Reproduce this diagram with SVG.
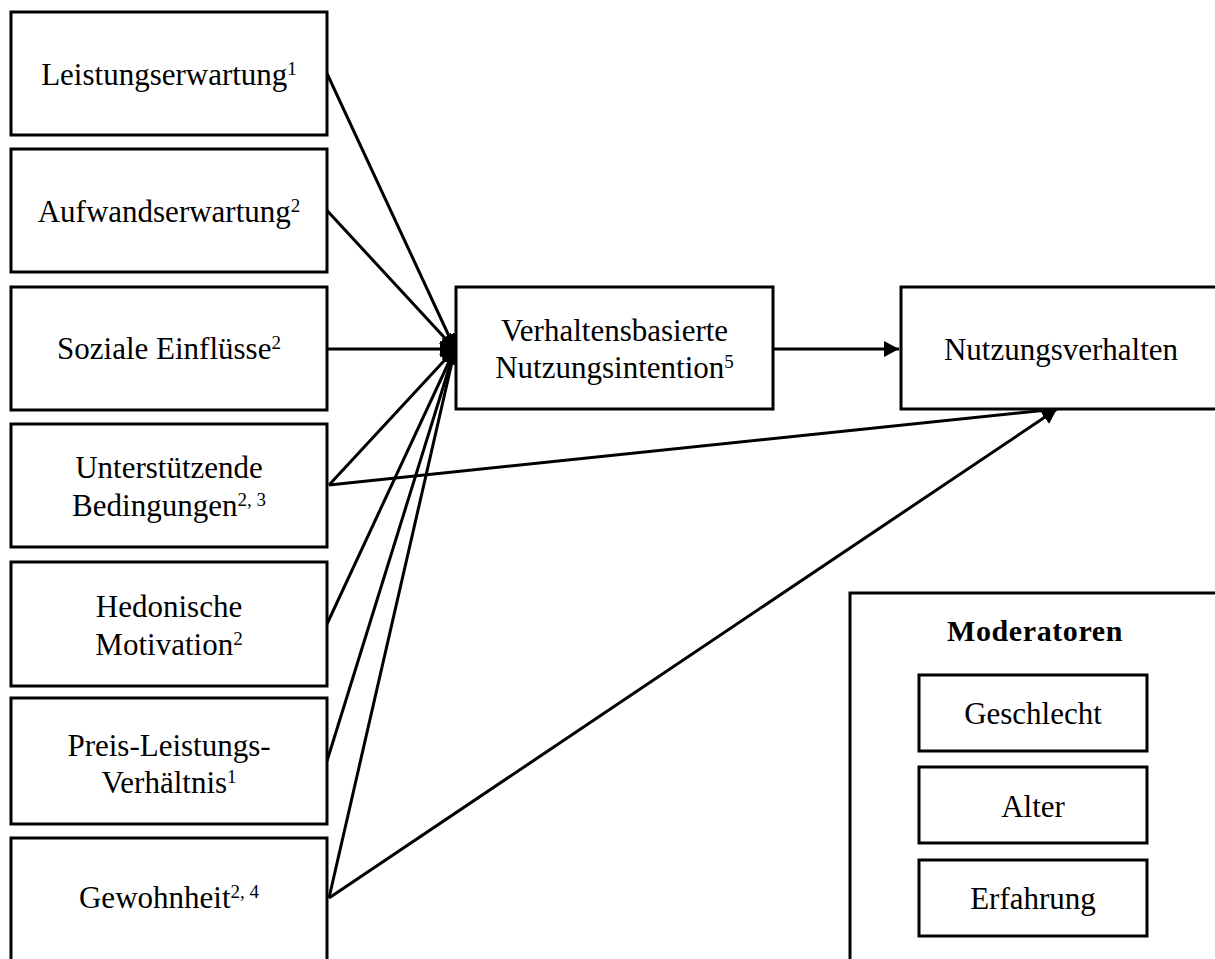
<svg xmlns="http://www.w3.org/2000/svg" width="1215" height="959" viewBox="0 0 1215 959">
  <style>
    .box { fill: #fff; stroke: #000; stroke-width: 3; }
    .lbl { font-family: "Liberation Serif", "Times New Roman", serif; font-size: 31px; fill: #000; text-anchor: middle; }
    .sup { font-size: 19px; }
    .head { font-weight: bold; font-size: 30px; letter-spacing: 0.6px; }
    .conn { stroke: #000; stroke-width: 3; fill: none; marker-end: url(#arrow); }
  </style>
  <defs>
    <marker id="arrow" markerUnits="userSpaceOnUse" markerWidth="17" markerHeight="17" refX="15" refY="8" orient="auto">
      <path d="M0,0 L15,8 L0,16 z" fill="#000"/>
    </marker>
  </defs>

  <rect width="1215" height="959" fill="#fff"/>

  <!-- connectors -->
  <g id="connectors">
    <line class="conn" x1="327" y1="73.5" x2="455" y2="349"/>
    <line class="conn" x1="327" y1="210.5" x2="455" y2="349"/>
    <line class="conn" x1="327" y1="349" x2="455" y2="349"/>
    <line class="conn" x1="329" y1="485" x2="455" y2="349"/>
    <line class="conn" x1="327" y1="624" x2="455" y2="349"/>
    <line class="conn" x1="327" y1="761" x2="455" y2="349"/>
    <line class="conn" x1="329" y1="898" x2="455" y2="349"/>
    <line class="conn" x1="773" y1="349" x2="899" y2="349"/>
    <line class="conn" x1="329" y1="485" x2="1057" y2="409"/>
    <line class="conn" x1="329" y1="898" x2="1057" y2="409"/>
  </g>

  <!-- predictors -->
  <g id="leistungserwartung">
    <rect class="box" x="11" y="12" width="316" height="123"/>
    <text class="lbl" x="169" y="85">Leistungserwartung<tspan class="sup" dy="-10">1</tspan></text>
  </g>
  <g id="aufwandserwartung">
    <rect class="box" x="11" y="149" width="316" height="123"/>
    <text class="lbl" x="169" y="222">Aufwandserwartung<tspan class="sup" dy="-10">2</tspan></text>
  </g>
  <g id="soziale-einfluesse">
    <rect class="box" x="11" y="287" width="316" height="123"/>
    <text class="lbl" x="169" y="359">Soziale Einflüsse<tspan class="sup" dy="-10">2</tspan></text>
  </g>
  <g id="unterstuetzende-bedingungen">
    <rect class="box" x="11" y="424" width="316" height="123"/>
    <text class="lbl" x="169" y="478">Unterstützende</text>
    <text class="lbl" x="169" y="516">Bedingungen<tspan class="sup" dy="-10">2,  3</tspan></text>
  </g>
  <g id="hedonische-motivation">
    <rect class="box" x="11" y="562" width="316" height="124"/>
    <text class="lbl" x="169" y="617">Hedonische</text>
    <text class="lbl" x="169" y="655">Motivation<tspan class="sup" dy="-10">2</tspan></text>
  </g>
  <g id="preis-leistungs-verhaeltnis">
    <rect class="box" x="11" y="698" width="316" height="126"/>
    <text class="lbl" x="169" y="756">Preis-Leistungs-</text>
    <text class="lbl" x="169" y="793">Verhältnis<tspan class="sup" dy="-10">1</tspan></text>
  </g>
  <g id="gewohnheit">
    <rect class="box" x="11" y="838" width="316" height="130"/>
    <text class="lbl" x="169" y="908">Gewohnheit<tspan class="sup" dy="-10">2,  4</tspan></text>
  </g>

  <!-- intention and behaviour -->
  <g id="nutzungsintention">
    <rect class="box" x="456" y="287" width="317" height="122"/>
    <text class="lbl" x="614.5" y="341">Verhaltensbasierte</text>
    <text class="lbl" x="614.5" y="378">Nutzungsintention<tspan class="sup" dy="-10">5</tspan></text>
  </g>
  <g id="nutzungsverhalten">
    <rect class="box" x="901" y="287" width="330" height="122"/>
    <text class="lbl" x="1061" y="360">Nutzungsverhalten</text>
  </g>

  <!-- moderators -->
  <g id="moderatoren">
    <rect class="box" x="850" y="593" width="380" height="400"/>
    <text class="lbl head" x="1035" y="641">Moderatoren</text>
  </g>
  <g id="geschlecht">
    <rect class="box" x="919" y="675" width="228" height="76"/>
    <text class="lbl" x="1033" y="724">Geschlecht</text>
  </g>
  <g id="alter">
    <rect class="box" x="919" y="767" width="228" height="76"/>
    <text class="lbl" x="1033" y="817">Alter</text>
  </g>
  <g id="erfahrung">
    <rect class="box" x="919" y="860" width="228" height="76"/>
    <text class="lbl" x="1033" y="909">Erfahrung</text>
  </g>
</svg>
